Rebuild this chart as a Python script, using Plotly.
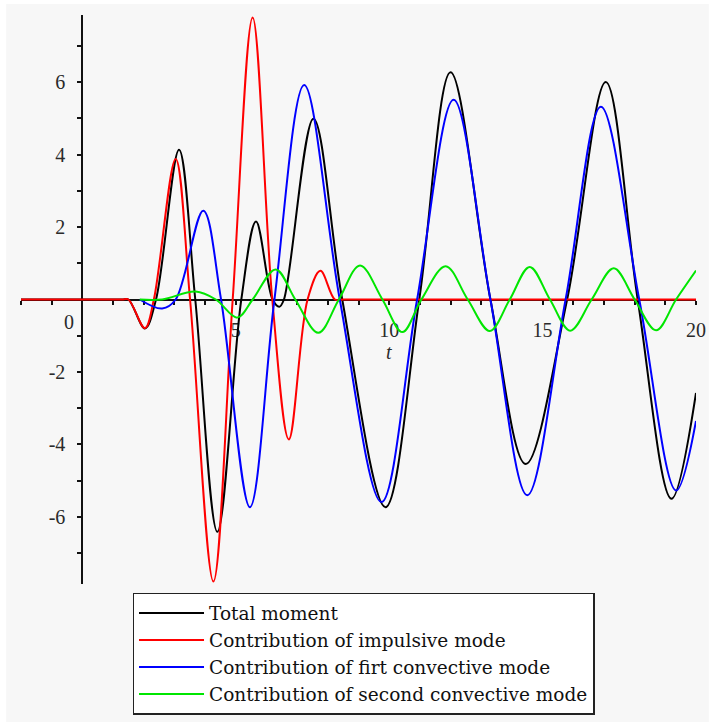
import plotly.graph_objects as go

# ---------------- data ----------------
t_total = [-2, 1.0, 1.3, 1.5, 2.04, 2.4, 3.15, 3.68, 4.4, 5.18, 5.66, 6.2, 6.42, 6.57, 7.53, 8.47,
           9.88, 10.98, 12.0, 13.3, 14.45, 15.8, 17.06, 18.1, 19.2, 20]
m_total = [0, 0, 0, 0, -0.8, 0, 4.13, 0, -6.41, 0, 2.15, 0, -0.2, 0, 4.99, 0,
           -5.73, 0, 6.27, 0, -4.54, 0, 6.0, 0, -5.5, -2.58]

t_imp = [-2, 1.0, 1.3, 1.5, 2.04, 2.33, 3.04, 3.51, 4.27, 4.9, 5.55, 6.19, 6.73, 7.34, 7.76, 8.23, 8.5, 20]
m_imp = [0, 0, 0, 0, -0.79, 0, 3.88, 0, -7.78, 0, 7.78, 0, -3.86, 0, 0.79, 0, 0, 0]

t_conv1 = [1.87, 2.6, 3.04, 3.94, 4.52, 5.46, 6.26, 7.23, 8.39, 9.75, 10.91, 12.1, 13.3,
           14.5, 15.75, 16.9, 18.15, 19.35, 20]
m_conv1 = [0, -0.25, 0, 2.45, 0, -5.73, 0, 5.92, 0, -5.59, 0, 5.51, 0,
           -5.4, 0, 5.32, 0, -5.27, -3.35]

t_conv2 = [1.87, 2.6, 3.69, 4.35, 5.05, 5.55, 6.3, 6.94, 7.69, 8.36, 9.05, 9.78, 10.43, 11.05,
           11.84, 12.56, 13.28, 13.93, 14.58, 15.24, 15.9, 16.6, 17.32, 18.0, 18.7, 19.35, 20]
m_conv2 = [0, 0, 0.22, 0, -0.5, 0, 0.83, 0, -0.92, 0, 0.94, 0, -0.9, 0,
           0.92, 0, -0.87, 0, 0.9, 0, -0.86, 0, 0.86, 0, -0.85, 0, 0.8]

series_names = ["Total moment", "Contribution of impulsive mode",
                "Contribution of firt convective mode", "Contribution of second convective mode"]
series_colors = ["#000000", "#ff0000", "#0000ff", "#00e600"]

x_ticks = list(range(-2, 21))
x_labels = [str(v) if (v % 5 == 0 and v != 0) else "" for v in x_ticks]
y_ticks = list(range(-7, 8))
y_labels = [str(v) if (v % 2 == 0 and v != 0) else "" for v in y_ticks]
x_range = [-2, 20]
y_range = [-7.85, 7.85]

# ---------------- figure ----------------
W, H = 718, 727
ML, MR, MT, MB = 21, 13, 15, 139
PW, PH = W - ML - MR, H - MT - MB

fig = go.Figure()
for t, m, name, col in zip([t_total, t_imp, t_conv1, t_conv2],
                           [m_total, m_imp, m_conv1, m_conv2],
                           series_names, series_colors):
    fig.add_trace(go.Scatter(x=t, y=m, mode="lines", name=name,
                             line=dict(color=col, width=2, shape="spline", smoothing=1.0)))

def px2paper_x(px):
    return (px - ML) / PW

def px2paper_y(py):
    return (H - MB - py) / PH

tick_font = dict(family="Liberation Serif, Times New Roman, serif", size=20, color="#2a2a2a")

fig.update_layout(
    width=W, height=H, autosize=False,
    margin=dict(l=ML, r=MR, t=MT, b=MB, pad=0),
    paper_bgcolor="#ffffff", plot_bgcolor="rgba(0,0,0,0)",
    xaxis=dict(range=x_range, anchor="free",
               position=(0 - y_range[0]) / (y_range[1] - y_range[0]),
               showgrid=False, zeroline=False, showline=True, linecolor="#111111", linewidth=2,
               ticks="outside", ticklen=4, tickwidth=1.5, tickcolor="#111111",
               tickmode="array", tickvals=x_ticks, ticktext=x_labels,
               tickfont=tick_font, ticklabelstandoff=8, layer="below traces"),
    yaxis=dict(range=y_range, anchor="free",
               position=(0 - x_range[0]) / (x_range[1] - x_range[0]),
               showgrid=False, zeroline=False, showline=True, linecolor="#111111", linewidth=2,
               ticks="outside", ticklen=4, tickwidth=1.5, tickcolor="#111111",
               tickmode="array", tickvals=y_ticks, ticktext=y_labels,
               tickfont=tick_font, ticklabelstandoff=8, layer="below traces"),
    legend=dict(x=px2paper_x(134), y=px2paper_y(597), xanchor="left", yanchor="top",
                bgcolor="#ffffff", bordercolor="#222222", borderwidth=1.5,
                font=dict(family="DejaVu Serif, Liberation Serif, serif", size=18.5, color="#111111"),
                itemwidth=65, tracegroupgap=0),
    showlegend=True,
    shapes=[dict(type="rect", xref="paper", yref="paper",
                 x0=px2paper_x(6), x1=px2paper_x(W), y0=px2paper_y(H), y1=px2paper_y(4),
                 fillcolor="#f7f7f7", line=dict(width=0), layer="below")],
    annotations=[
        dict(x=0, y=0, xref="x", yref="y", text="0", showarrow=False,
             xshift=-13, yshift=-22, font=tick_font),
        dict(x=10, y=0, xref="x", yref="y", text="<i>t</i>", showarrow=False,
             yshift=-52, font=tick_font),
    ],
)

fig.write_html("out.html")
